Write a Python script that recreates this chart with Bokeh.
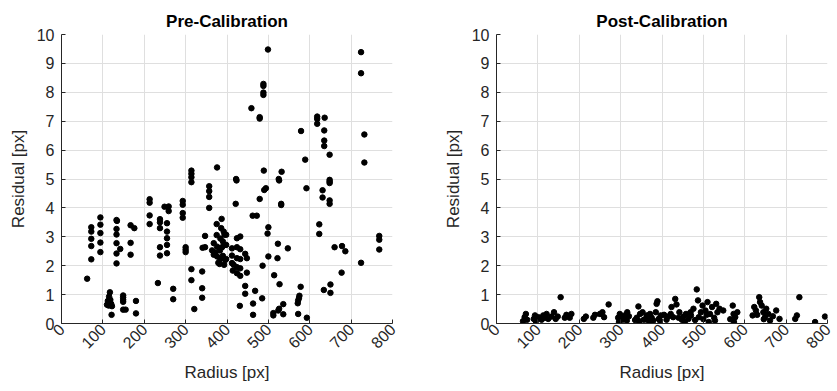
import math
from bokeh.plotting import figure
from bokeh.layouts import row
from bokeh.models import Range1d, FixedTicker
from bokeh.embed import file_html
from bokeh.resources import INLINE

# ---------------- data ----------------
pre_radius = [
    62,
    72, 72, 72, 72, 72,
    94, 94, 94, 94, 94,
    117, 115, 112, 116, 120, 110, 114, 122, 118, 121,
    133, 134, 133, 133, 133, 133, 133, 142,
    149, 149, 149, 149, 149, 155,
    167, 167, 167, 176,
    180, 180,
    213, 213, 213, 213,
    233,
    238, 238, 238, 238, 238,
    249, 259, 259,
    255, 255, 255, 255, 255,
    270, 270,
    293, 293, 293, 293,
    300, 300, 300,
    314, 314, 314, 314, 314, 314,
    321,
    340, 340, 340,
    347, 347, 341,
    357, 357, 357, 357,
    376,
    387, 375, 386, 392, 394, 375, 384, 390, 368, 394, 376, 388, 364, 372, 383,
    368, 376, 390, 384, 396, 379, 393, 382,
    423, 421, 526, 494, 490, 479, 531, 531, 592, 631, 648, 648, 631, 648, 648,
    462, 472, 500, 498, 623, 623, 768, 768, 768,
    398, 398, 398, 424, 432, 412, 424, 432, 412, 424, 432, 444, 448, 412, 416,
    424, 432, 414, 424, 432, 448, 486, 500, 523, 547, 522, 514, 527, 444, 444,
    468, 485, 431, 463, 463, 578, 575, 574, 572, 571, 572, 593, 536, 526, 524,
    512, 512, 536, 660, 678, 686, 724, 677, 634, 650, 650,
    499, 724, 724, 488, 488, 488, 488, 459, 479, 479, 618, 618, 618, 636, 579,
    635, 732, 635, 635, 648, 589, 732, 489, 532, 422, 525, 648,
]
pre_residual = [
    1.55,
    3.33, 3.18, 2.93, 2.68, 2.22,
    3.67, 3.42, 3.13, 2.80, 2.47,
    1.08, 0.93, 0.78, 0.72, 0.68, 0.65, 0.62, 0.60, 0.82, 0.30,
    3.58, 3.55, 3.27, 3.08, 2.78, 2.42, 2.08, 2.58,
    0.97, 0.90, 0.82, 0.75, 0.48, 0.48,
    3.40, 2.79, 2.38, 3.30,
    0.78, 0.35,
    4.30, 4.18, 3.74, 3.44,
    1.40,
    3.61, 3.50, 3.30, 2.64, 2.35,
    4.04, 4.05, 3.89,
    3.47, 3.18, 2.95, 2.72, 2.43,
    1.20, 0.84,
    4.24, 4.11, 3.82, 3.66,
    2.64, 2.55, 2.47,
    5.29, 5.18, 5.06, 4.89, 1.88, 1.50,
    0.50,
    1.80, 1.22, 0.89,
    3.03, 2.64, 2.62,
    4.75, 4.58, 4.38, 4.00,
    5.40,
    3.62, 3.44, 3.30, 3.18, 3.07, 3.06, 2.94, 2.84, 2.78, 2.72, 2.66, 2.64, 2.53, 2.46, 2.53,
    2.38, 2.32, 2.34, 2.23, 2.20, 2.10, 2.03, 2.06,
    4.95, 4.14, 4.95, 4.68, 4.62, 4.31, 4.10, 4.14, 4.68, 4.61, 4.91, 4.86, 4.36, 4.26, 4.14,
    3.73, 3.73, 3.33, 3.11, 3.43, 3.10, 3.03, 2.90, 2.56,
    3.07, 2.72, 2.23, 2.95, 3.01, 2.60, 2.64, 2.57, 2.35, 2.26, 2.23, 2.41, 2.26, 2.09, 2.03,
    1.95, 1.91, 1.83, 1.74, 1.65, 1.76, 2.00, 2.32, 2.76, 2.60, 2.26, 1.67, 1.36, 1.30, 1.03,
    1.13, 0.87, 0.61, 0.69, 0.30, 1.27, 0.96, 0.88, 0.80, 0.70, 0.33, 0.20, 0.67, 0.51, 0.45,
    0.36, 0.28, 0.32, 2.64, 2.68, 2.50, 2.10, 1.76, 1.16, 1.35, 1.06,
    9.48, 9.39, 8.66, 8.29, 8.22, 7.99, 7.91, 7.45, 7.14, 7.09, 7.16, 7.08, 6.91, 7.12, 6.66,
    6.68, 6.54, 6.33, 6.14, 5.84, 5.67, 5.57, 5.29, 5.25, 5.00, 5.00, 4.97,
]

post_radius = [
    64, 68, 71, 74, 90, 93, 95, 101, 109, 113, 117, 121, 125, 133, 139, 143, 148, 155,
    165, 169, 177, 181, 211, 216, 234, 238, 250, 256, 260, 271,
    294, 298, 305, 310, 316, 315, 339, 343, 347, 353, 356, 363, 367, 371, 375, 379,
    385, 387, 389, 392, 397, 411, 415, 421, 423, 427, 432, 435, 442, 448, 452,
    458, 464, 469, 476, 484, 487, 489, 494, 498, 505, 510, 513, 516, 521, 526, 531,
    534, 539, 548, 571, 573, 574, 577, 582, 619, 623, 627, 635, 637, 641, 645, 649,
    652, 657, 661, 676, 684, 722, 726, 732, 770, 794,
    296, 300, 320, 335, 345, 360, 372, 395, 405, 440, 455, 470, 480, 500, 508, 528,
    565, 630, 646, 668,
]
post_residual = [
    0.08, 0.22, 0.33, 0.13, 0.16, 0.28, 0.08, 0.22, 0.13, 0.28, 0.20, 0.33, 0.16, 0.24,
    0.39, 0.16, 0.24, 0.91,
    0.20, 0.30, 0.20, 0.33, 0.16, 0.24, 0.20, 0.30, 0.33, 0.39, 0.22, 0.66,
    0.20, 0.33, 0.13, 0.28, 0.39, 0.10, 0.20, 0.59, 0.33, 0.39, 0.13, 0.28, 0.10, 0.33,
    0.20, 0.10,
    0.39, 0.68, 0.77, 0.16, 0.28, 0.13, 0.24, 0.33, 0.57, 0.22, 0.85, 0.66, 0.39, 0.13, 0.24,
    0.33, 0.16, 0.39, 0.51, 1.18, 0.80, 0.22, 0.39, 0.62, 0.45, 0.74, 0.05, 0.33, 0.57,
    0.20, 0.68,
    0.39, 0.51, 0.45, 0.62, 0.33, 0.05, 0.22, 0.39, 0.28, 0.57, 0.45, 0.91, 0.74, 0.62,
    0.39, 0.22,
    0.51, 0.33, 0.10, 0.45, 0.16, 0.16, 0.28, 0.91, 0.05, 0.24,
    0.05, 0.18, 0.25, 0.12, 0.08, 0.15, 0.05, 0.10, 0.30, 0.20, 0.05, 0.28, 0.12, 0.15,
    0.30, 0.10, 0.15, 0.30, 0.15, 0.25,
]

x_ticks = [0, 100, 200, 300, 400, 500, 600, 700, 800]
y_ticks = [0, 1, 2, 3, 4, 5, 6, 7, 8, 9, 10]

FONT = "Liberation Sans"
AX = "#262626"
GRID = "#dfdfdf"


def make_panel(title, xs, ys, border_left, border_right, width):
    p = figure(
        width=width, height=391,
        x_range=Range1d(0, 800), y_range=Range1d(0, 10),
        output_backend="svg", toolbar_location=None,
        min_border_left=border_left, min_border_right=border_right,
        min_border_top=34, min_border_bottom=68,
        title=title,
    )
    p.outline_line_color = None
    p.background_fill_color = "white"
    p.border_fill_color = "white"

    p.title.text_font = FONT
    p.title.text_font_size = "17px"
    p.title.text_font_style = "bold"
    p.title.text_color = "black"
    p.title.align = "center"
    p.title.standoff = 8

    p.scatter(xs, ys, size=5.5, color="black", line_color="black")

    for ax in (p.xaxis[0], p.yaxis[0]):
        ax.axis_line_color = AX
        ax.axis_line_width = 1
        ax.major_tick_line_color = AX
        ax.major_tick_in = 4
        ax.major_tick_out = 0
        ax.minor_tick_line_color = None
        ax.major_label_text_font = FONT
        ax.major_label_text_font_size = "16px"
        ax.major_label_text_color = AX
        ax.axis_label_text_font = FONT
        ax.axis_label_text_font_size = "17px"
        ax.axis_label_text_font_style = "normal"
        ax.axis_label_text_color = AX

    p.xaxis.ticker = FixedTicker(ticks=x_ticks)
    p.yaxis.ticker = FixedTicker(ticks=y_ticks)
    p.xaxis.axis_label = "Radius [px]"
    p.yaxis.axis_label = "Residual [px]"
    p.xaxis.major_label_orientation = math.pi / 4
    p.xaxis.major_label_standoff = 3
    p.yaxis.major_label_standoff = 7
    p.yaxis.axis_label_standoff = 6
    p.xaxis.axis_label_standoff = 6

    p.xgrid.grid_line_color = GRID
    p.ygrid.grid_line_color = GRID
    p.xgrid.grid_line_width = 1
    p.ygrid.grid_line_width = 1
    return p


p1 = make_panel("Pre-Calibration", pre_radius, pre_residual, 61, 26, 418)
p2 = make_panel("Post-Calibration", post_radius, post_residual, 78, 10, 419)

layout = row(p1, p2, spacing=0)

open("out.html", "w").write(file_html(layout, INLINE))
